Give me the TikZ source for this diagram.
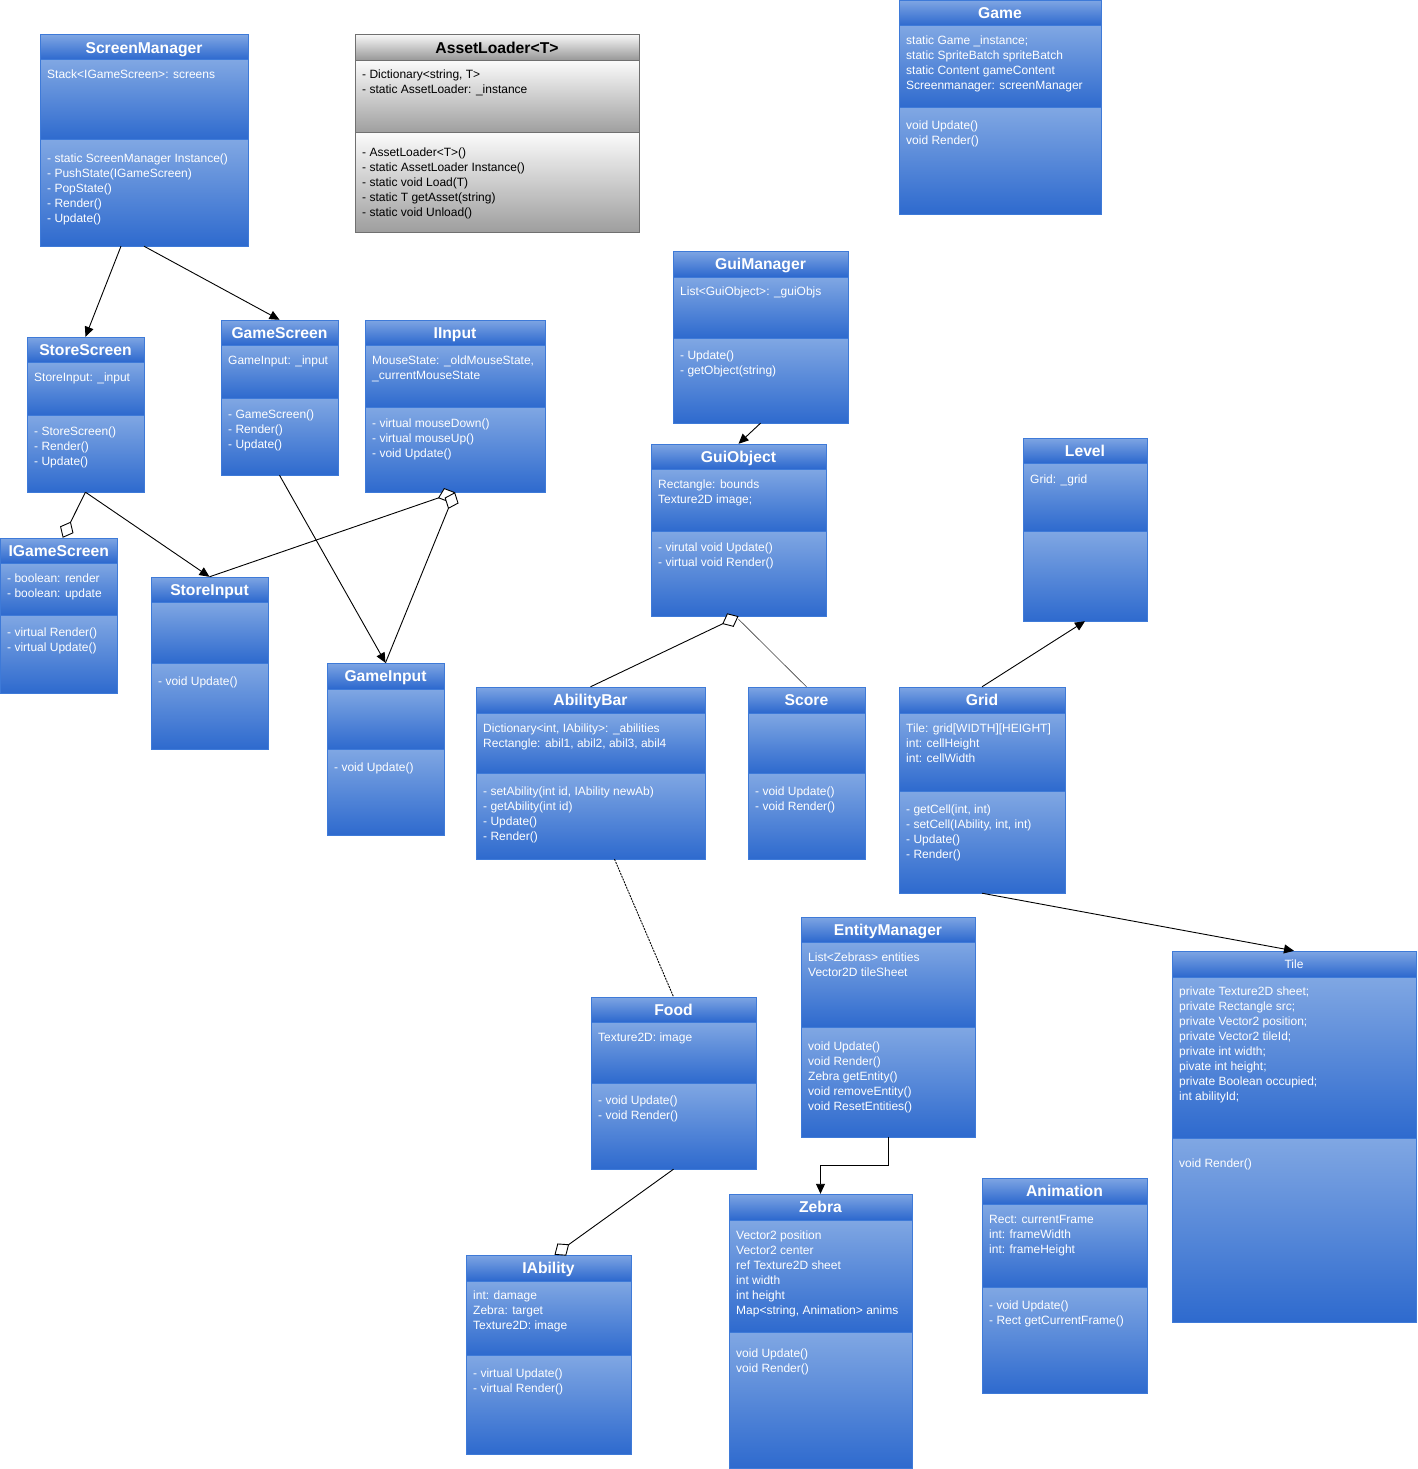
\documentclass[tikz,border=0pt]{standalone}
\usepackage{fontspec}
\setmainfont{Liberation Sans}
\usetikzlibrary{arrows.meta,fit,calc}
\definecolor{hdtop}{RGB}{126,165,227}
\definecolor{hdbot}{RGB}{44,104,206}
\definecolor{cptop}{RGB}{128,167,227}
\definecolor{cpbot}{RGB}{46,106,206}
\definecolor{bord}{RGB}{62,122,216}
\definecolor{gtop}{RGB}{246,246,246}
\definecolor{gbot}{RGB}{158,158,158}
\definecolor{gbord}{RGB}{112,112,112}
\tikzset{
  txt/.style={inner sep=0pt, font=\fontsize{12}{14}\selectfont, text=white, anchor=base west},
  ttl/.style={inner sep=0pt, font=\fontsize{15.7}{18}\selectfont\bfseries, text=white, anchor=base},
  frame/.style={draw=bord, line width=1pt},
  hdshade/.style={top color=hdtop, bottom color=hdbot},
  cpshade/.style={top color=cptop, bottom color=cpbot},
  conn/.style={line width=0.9pt, draw=black},
  arr/.style={conn, -{Triangle[length=10pt,width=9pt]}},
  agg/.style={conn, -{Diamond[open,fill=white,length=18pt,width=15pt]}},
}
\newcommand\tdrop{5.6}
% name x1 y1 x2 y2 yh yd title
\newcommand\umlbox[9][]{%
  \begin{scope}[#1]
  \shadedraw[hdshade,frame] (#3,#4) rectangle (#5,#7);
  \shadedraw[cpshade,frame] (#3,#7) rectangle (#5,#8);
  \shadedraw[cpshade,frame] (#3,#8) rectangle (#5,#6);
  \node[fit={(#3,#4) (#5,#6)}, inner sep=0pt] (#2) {};
  \node[ttl] (#2-title) at ({(#3+#5)/2},{(#4+#7)/2+\tdrop}) {#9};
  \end{scope}}
% prefix x ybase {lines}
\newcommand\tlines[5][]{%
  \foreach \t [count=\i from 0] in {#5} {\node[txt,#1] (#2-\i) at (#3,{#4+15*\i}) {\t};}}
\begin{document}
\begin{tikzpicture}[x=1pt,y=-1pt]
\useasboundingbox (0,0) rectangle (1417,1469);

% ScreenManager
\umlbox{SM}{40}{35}{248}{246}{60}{140}{ScreenManager}
\tlines{SMa}{47}{79}{{Stack<IGameScreen>: screens}}
\tlines{SMm}{47}{162}{{- static ScreenManager Instance()},{- PushState(IGameScreen)},{- PopState()},{- Render()},{- Update()}}

% AssetLoader
\umlbox[hdshade/.style={top color=gtop,bottom color=gbot!110},cpshade/.style={top color=gtop!50!white,bottom color=gbot},frame/.style={draw=gbord,line width=1pt},ttl/.append style={text=black}]{AL}{355}{35}{639}{232}{61}{133}{AssetLoader<T>}
\tlines[text=black]{ALa}{362}{79}{{- Dictionary<string, T>},{- static AssetLoader: \_instance}}
\tlines[text=black]{ALm}{362}{156}{{- AssetLoader<T>()},{- static AssetLoader Instance()},{- static void Load(T)},{- static T getAsset(string)},{- static void Unload()}}

% Game
\umlbox{Game}{899}{0.5}{1101}{214}{26}{108}{Game}
\tlines{Gma}{906}{45}{{static Game \_instance;},{static SpriteBatch spriteBatch},{static Content gameContent},{Screenmanager: screenManager}}
\tlines{Gmm}{906}{130}{{void Update()},{void Render()}}

% GuiManager
\umlbox{GM}{673}{251}{848}{423}{277}{338}{GuiManager}
\tlines{GMa}{680}{295}{{List<GuiObject>: \_guiObjs}}
\tlines{GMm}{680}{359}{{- Update()},{- getObject(string)}}

% StoreScreen
\umlbox{SS}{27}{337}{144}{492}{362}{415}{StoreScreen}
\tlines{SSa}{34}{381}{{StoreInput: \_input}}
\tlines{SSm}{34}{435}{{- StoreScreen()},{- Render()},{- Update()}}

% GameScreen
\umlbox{GS}{221}{320}{338}{475}{345}{398}{GameScreen}
\tlines{GSa}{228}{364}{{GameInput: \_input}}
\tlines{GSm}{228}{418}{{- GameScreen()},{- Render()},{- Update()}}

% IInput
\umlbox{II}{365}{320}{545}{492}{345}{407}{IInput}
\tlines{IIa}{372}{364}{{MouseState: \_oldMouseState,},{\_currentMouseState}}
\tlines{IIm}{372}{427}{{- virtual mouseDown()},{- virtual mouseUp()},{- void Update()}}

% GuiObject
\umlbox{GO}{651}{444}{826}{616}{469}{531}{GuiObject}
\tlines{GOa}{658}{488}{{Rectangle: bounds},{Texture2D image;}}
\tlines{GOm}{658}{551}{{- virutal void Update()},{- virtual void Render()}}

% Level
\umlbox{Level}{1023}{438}{1147}{621}{463}{531}{Level}
\tlines{Lva}{1030}{483}{{Grid: \_grid}}

% IGameScreen
\umlbox{IGS}{0.5}{538}{117}{693}{563}{615}{IGameScreen}
\tlines{IGSa}{7}{582}{{- boolean: render},{- boolean: update}}
\tlines{IGSm}{7}{636}{{- virtual Render()},{- virtual Update()}}

% StoreInput
\umlbox{SI}{151}{577}{268}{749}{602}{663}{StoreInput}
\tlines{SIm}{158}{685}{{- void Update()}}

% GameInput
\umlbox{GI}{327}{663}{444}{835}{689}{749}{GameInput}
\tlines{GIm}{334}{771}{{- void Update()}}

% AbilityBar
\umlbox{AB}{476}{687}{705}{859}{713}{773}{AbilityBar}
\tlines{ABa}{483}{732}{{Dictionary<int, IAbility>: \_abilities},{Rectangle: abil1, abil2, abil3, abil4}}
\tlines{ABm}{483}{795}{{- setAbility(int id, IAbility newAb)},{- getAbility(int id)},{- Update()},{- Render()}}

% Score
\umlbox{Score}{748}{687}{865}{859}{713}{773}{Score}
\tlines{Scm}{755}{795}{{- void Update()},{- void Render()}}

% Grid
\umlbox{Grid}{899}{687}{1065}{893}{713}{791}{Grid}
\tlines{Gra}{906}{732}{{Tile: grid[WIDTH][HEIGHT]},{int: cellHeight},{int: cellWidth}}
\tlines{Grm}{906}{813}{{- getCell(int, int)},{- setCell(IAbility, int, int)},{- Update()},{- Render()}}

% EntityManager
\umlbox{EM}{801}{917}{975}{1137}{942}{1027}{EntityManager}
\tlines{EMa}{808}{961}{{List<Zebras> entities},{Vector2D tileSheet}}
\tlines{EMm}{808}{1050}{{void Update()},{void Render()},{Zebra getEntity()},{void removeEntity()},{void ResetEntities()}}

% Tile
\umlbox[ttl/.style={inner sep=0pt,font=\fontsize{12}{14}\selectfont,text=white,anchor=base,yshift=1.3pt}]{Tile}{1172}{951}{1416}{1322}{977}{1138}{Tile}
\tlines{Tla}{1179}{995}{{private Texture2D sheet;},{private Rectangle src;},{private Vector2 position;},{private Vector2 tileId;},{private int width;},{pivate int height;},{private Boolean occupied;},{int abilityId;}}
\tlines{Tlm}{1179}{1167}{{void Render()}}

% Food
\umlbox{Food}{591}{997}{756}{1169}{1022}{1083}{Food}
\tlines{Fda}{598}{1041}{{Texture2D: image}}
\tlines{Fdm}{598}{1104}{{- void Update()},{- void Render()}}

% Zebra
\umlbox{Zebra}{729}{1194}{912}{1468.5}{1220}{1332}{Zebra}
\tlines{Zba}{736}{1239}{{Vector2 position},{Vector2 center},{ref Texture2D sheet},{int width},{int height},{Map<string, Animation> anims}}
\tlines{Zbm}{736}{1357}{{void Update()},{void Render()}}

% Animation
\umlbox{Anim}{982}{1178}{1147}{1393}{1204}{1287}{Animation}
\tlines{Ana}{989}{1223}{{Rect: currentFrame},{int: frameWidth},{int: frameHeight}}
\tlines{Anm}{989}{1309}{{- void Update()},{- Rect getCurrentFrame()}}

% IAbility
\umlbox{IAb}{466}{1255}{631}{1454}{1281}{1355}{IAbility}
\tlines{IAa}{473}{1299}{{int: damage},{Zebra: target},{Texture2D: image}}
\tlines{IAm}{473}{1377}{{- virtual Update()},{- virtual Render()}}

% connectors
\draw[arr] ([xshift=-23pt]SM.south) -- (SS.north);
\draw[arr] (SM.south) -- (GS.north);
\draw[agg] (SS.south) -- ([xshift=4pt]IGS.north);
\draw[arr] (SS.south) -- (SI.north);
\draw[agg] (SI.north) -- (II.south);
\draw[agg] (GI.north) -- (II.south);
\draw[arr] (GS.south) -- (GI.north);
\draw[arr] (GM.south) -- (GO.north);
\draw[agg] (AB.north) -- (GO.south);
\draw[line width=0.6pt, draw=black!75] (Score.north) -- ([yshift=-3pt]GO.south);
\draw[conn, dash pattern=on 2pt off 1pt] ([xshift=24pt]AB.south) -- (Food.north);
\draw[arr] (Grid.north) -- (Level.south);
\draw[arr] (Grid.south) -- (Tile.north);
\draw[arr] (EM.south) -- ++(0,28) -| (Zebra.north);
\draw[agg] (Food.south) -- ([xshift=6pt]IAb.north);
\end{tikzpicture}
\end{document}
